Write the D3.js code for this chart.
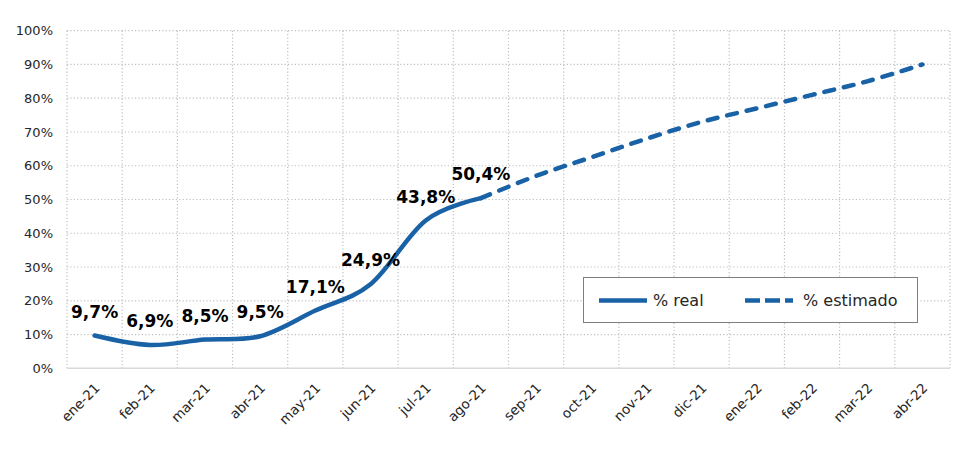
<!DOCTYPE html>
<html>
<head>
<meta charset="utf-8">
<script src="https://cdn.jsdelivr.net/npm/d3@7/dist/d3.min.js"></script>
<style>
  html, body { margin: 0; padding: 0; background: #ffffff; }
  svg { display: block; }
</style>
</head>
<body>
<svg id="chart" width="974" height="450"></svg>
<script>
const months = ["ene-21","feb-21","mar-21","abr-21","may-21","jun-21","jul-21","ago-21",
                "sep-21","oct-21","nov-21","dic-21","ene-22","feb-22","mar-22","abr-22"];
const realValues = [9.7, 6.9, 8.5, 9.5, 17.1, 24.9, 43.8, 50.4, null, null, null, null, null, null, null, null];
const estimatedValues = [null, null, null, null, null, null, null, 50.4, 57.0, 62.5, 68.0, 73.0, 77.0, 81.0, 85.0, 90.0];
const yTicks = [0, 10, 20, 30, 40, 50, 60, 70, 80, 90, 100];
const seriesNames = ["% real", "% estimado"];

const blue = "#1a62a6";
const svg = d3.select("#chart");
const margin = { left: 67, right: 24, top: 30.7, bottom: 81.7 };
const W = 974, H = 450;

const x = d3.scaleBand().domain(months).range([margin.left, W - margin.right]).paddingInner(0).paddingOuter(0);
const y = d3.scaleLinear().domain([0, 100]).range([H - margin.bottom, margin.top]);
const cx = m => x(m) + x.bandwidth() / 2;

// gridlines
const grid = svg.append("g");
grid.selectAll("line.h").data(yTicks.filter(t => t > 0)).join("line")
  .attr("x1", margin.left).attr("x2", W - margin.right)
  .attr("y1", d => y(d)).attr("y2", d => y(d))
  .attr("stroke", "#bfbfbf").attr("stroke-width", 1.2).attr("stroke-dasharray", "1.2,2.2");
const vb = months.map(m => x(m)).concat([x(months[months.length - 1]) + x.bandwidth()]);
grid.selectAll("line.v").data(vb).join("line")
  .attr("x1", d => d).attr("x2", d => d)
  .attr("y1", y(100)).attr("y2", y(0))
  .attr("stroke", "#bfbfbf").attr("stroke-width", 1.2).attr("stroke-dasharray", "1.2,2.2");

// x axis line
svg.append("line").attr("x1", margin.left).attr("x2", W - margin.right)
  .attr("y1", y(0)).attr("y2", y(0)).attr("stroke", "#d9d9d9").attr("stroke-width", 1.5);

// y axis labels
const yAxis = d3.axisLeft(y).tickValues(yTicks).tickFormat(d => d + "%").tickSize(0).tickPadding(14);
const gy = svg.append("g").attr("transform", `translate(${margin.left},0)`).call(yAxis);
gy.select(".domain").remove();
gy.selectAll("text").attr("font-family", "DejaVu Sans").attr("font-size", 13).attr("fill", "#262626");

// x axis labels
svg.append("g").selectAll("text").data(months).join("text")
  .attr("transform", d => `translate(${cx(d) + 6},${389}) rotate(-45)`)
  .attr("text-anchor", "end")
  .attr("font-family", "DejaVu Sans").attr("font-size", 13.5).attr("fill", "#262626")
  .text(d => d);

// lines
const line = d3.line()
  .defined(d => d.v !== null)
  .x(d => cx(d.m)).y(d => y(d.v))
  .curve(d3.curveCatmullRom.alpha(0));
const realData = months.map((m, i) => ({ m, v: realValues[i] }));
const estData = months.map((m, i) => ({ m, v: estimatedValues[i] }));

svg.append("path").datum(estData).attr("d", line)
  .attr("fill", "none").attr("stroke", blue).attr("stroke-width", 4.5)
  .attr("stroke-linecap", "round").attr("stroke-dasharray", "10,10");
svg.append("path").datum(realData).attr("d", line)
  .attr("fill", "none").attr("stroke", blue).attr("stroke-width", 4.5)
  .attr("stroke-linecap", "round");

// data labels
svg.append("g").selectAll("text").data(realData.filter(d => d.v !== null)).join("text")
  .attr("x", d => cx(d.m)).attr("y", d => y(d.v) - 24)
  .attr("dy", "0.36em")
  .attr("text-anchor", "middle")
  .attr("font-family", "DejaVu Sans").attr("font-weight", "bold").attr("font-size", 17)
  .attr("fill", "#000")
  .text(d => d.v.toFixed(1).replace(".", ",") + "%");

// legend
const lg = svg.append("g");
lg.append("rect").attr("x", 583.5).attr("y", 277.5).attr("width", 334).attr("height", 45)
  .attr("fill", "#fff").attr("stroke", "#7f7f7f").attr("stroke-width", 1);
lg.append("line").attr("x1", 599).attr("x2", 647).attr("y1", 300.5).attr("y2", 300.5)
  .attr("stroke", blue).attr("stroke-width", 4.5);
lg.append("text").attr("x", 653).attr("y", 300.5).attr("dy", "0.36em")
  .attr("font-family", "DejaVu Sans").attr("font-size", 16).attr("fill", "#262626").text(seriesNames[0]);
lg.append("line").attr("x1", 745).attr("x2", 793).attr("y1", 300.5).attr("y2", 300.5)
  .attr("stroke", blue).attr("stroke-width", 4.5).attr("stroke-dasharray", "15,5");
lg.append("text").attr("x", 803).attr("y", 300.5).attr("dy", "0.36em")
  .attr("font-family", "DejaVu Sans").attr("font-size", 16).attr("fill", "#262626").text(seriesNames[1]);
</script>
</body>
</html>
